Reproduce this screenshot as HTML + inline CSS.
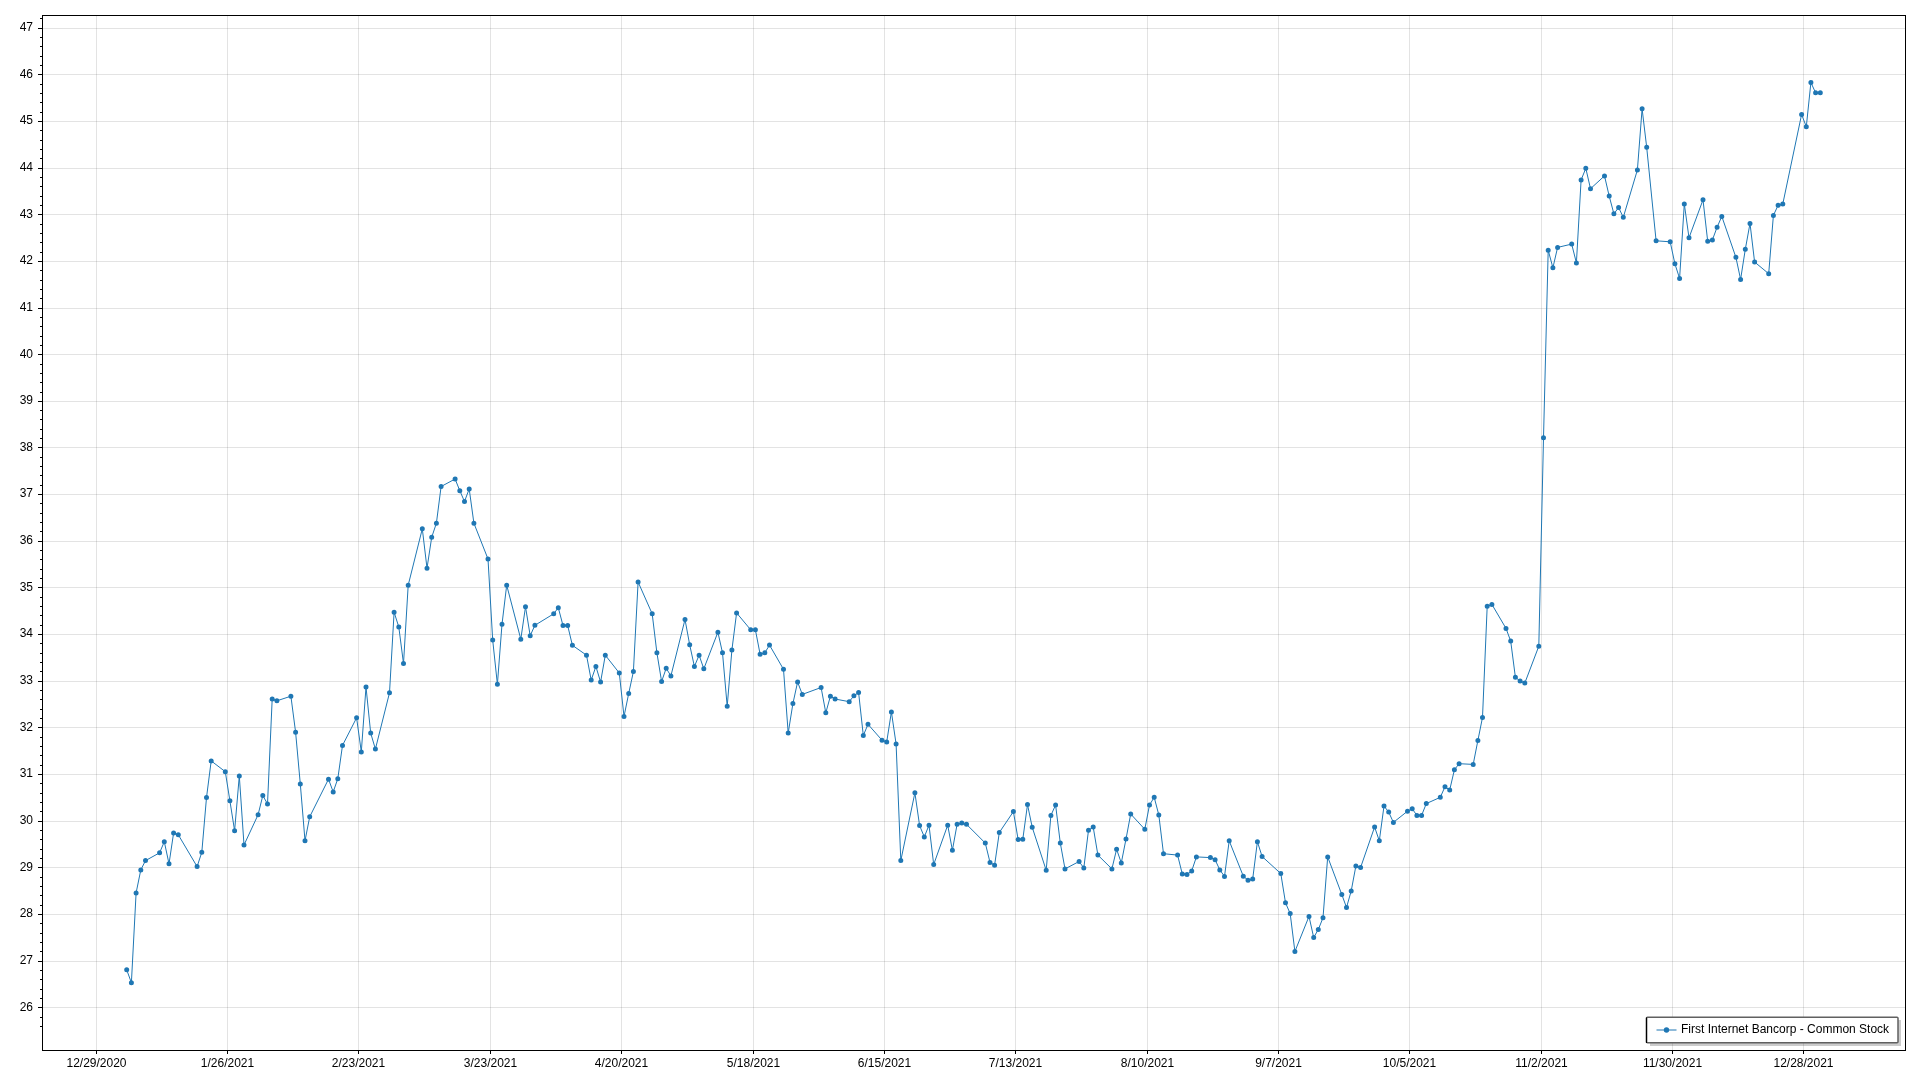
<!DOCTYPE html>
<html><head><meta charset="utf-8"><style>
html,body{margin:0;padding:0;background:#fff;width:1920px;height:1080px;overflow:hidden}
body{position:relative;font-family:"Liberation Sans", sans-serif}
</style></head><body>
<svg width="1920" height="1080" viewBox="0 0 1920 1080" style="position:absolute;left:0;top:0;will-change:transform"><path d="M43 1007.5H1905M43 961.5H1905M43 914.5H1905M43 867.5H1905M43 821.5H1905M43 774.5H1905M43 727.5H1905M43 681.5H1905M43 634.5H1905M43 587.5H1905M43 541.5H1905M43 494.5H1905M43 447.5H1905M43 401.5H1905M43 354.5H1905M43 308.5H1905M43 261.5H1905M43 214.5H1905M43 168.5H1905M43 121.5H1905M43 74.5H1905M43 28.5H1905M96.5 16V1050M227.5 16V1050M358.5 16V1050M490.5 16V1050M621.5 16V1050M753.5 16V1050M884.5 16V1050M1015.5 16V1050M1147.5 16V1050M1278.5 16V1050M1409.5 16V1050M1541.5 16V1050M1672.5 16V1050M1803.5 16V1050" stroke="#000" stroke-opacity="0.11" stroke-width="1" fill="none"/><path d="M38 1007.5H42M38 961.5H42M38 914.5H42M38 867.5H42M38 821.5H42M38 774.5H42M38 727.5H42M38 681.5H42M38 634.5H42M38 587.5H42M38 541.5H42M38 494.5H42M38 447.5H42M38 401.5H42M38 354.5H42M38 308.5H42M38 261.5H42M38 214.5H42M38 168.5H42M38 121.5H42M38 74.5H42M38 28.5H42M40 1026.5H42M40 1017.5H42M40 998.5H42M40 989.5H42M40 979.5H42M40 970.5H42M40 951.5H42M40 942.5H42M40 933.5H42M40 923.5H42M40 905.5H42M40 895.5H42M40 886.5H42M40 877.5H42M40 858.5H42M40 849.5H42M40 839.5H42M40 830.5H42M40 811.5H42M40 802.5H42M40 793.5H42M40 783.5H42M40 765.5H42M40 755.5H42M40 746.5H42M40 737.5H42M40 718.5H42M40 709.5H42M40 699.5H42M40 690.5H42M40 671.5H42M40 662.5H42M40 653.5H42M40 643.5H42M40 625.5H42M40 615.5H42M40 606.5H42M40 597.5H42M40 578.5H42M40 569.5H42M40 559.5H42M40 550.5H42M40 531.5H42M40 522.5H42M40 513.5H42M40 503.5H42M40 485.5H42M40 475.5H42M40 466.5H42M40 457.5H42M40 438.5H42M40 429.5H42M40 419.5H42M40 410.5H42M40 392.5H42M40 382.5H42M40 373.5H42M40 364.5H42M40 345.5H42M40 336.5H42M40 326.5H42M40 317.5H42M40 298.5H42M40 289.5H42M40 280.5H42M40 270.5H42M40 252.5H42M40 242.5H42M40 233.5H42M40 224.5H42M40 205.5H42M40 196.5H42M40 186.5H42M40 177.5H42M40 158.5H42M40 149.5H42M40 140.5H42M40 130.5H42M40 112.5H42M40 102.5H42M40 93.5H42M40 84.5H42M40 65.5H42M40 56.5H42M40 46.5H42M40 37.5H42M40 18.5H42M96.5 1051V1054M227.5 1051V1054M358.5 1051V1054M490.5 1051V1054M621.5 1051V1054M753.5 1051V1054M884.5 1051V1054M1015.5 1051V1054M1147.5 1051V1054M1278.5 1051V1054M1409.5 1051V1054M1541.5 1051V1054M1672.5 1051V1054M1803.5 1051V1054" stroke="#000" stroke-width="1" fill="none"/><rect x="42.5" y="15.5" width="1863" height="1035" stroke="#000" stroke-width="1" fill="none"/><g font-family='"Liberation Sans", sans-serif' font-size="12" fill="#000"><text x="33" y="1010.52" text-anchor="end">26</text><text x="33" y="963.88" text-anchor="end">27</text><text x="33" y="917.24" text-anchor="end">28</text><text x="33" y="870.59" text-anchor="end">29</text><text x="33" y="823.94" text-anchor="end">30</text><text x="33" y="777.3" text-anchor="end">31</text><text x="33" y="730.65" text-anchor="end">32</text><text x="33" y="684.01" text-anchor="end">33</text><text x="33" y="637.36" text-anchor="end">34</text><text x="33" y="590.72" text-anchor="end">35</text><text x="33" y="544.07" text-anchor="end">36</text><text x="33" y="497.43" text-anchor="end">37</text><text x="33" y="450.79" text-anchor="end">38</text><text x="33" y="404.14" text-anchor="end">39</text><text x="33" y="357.5" text-anchor="end">40</text><text x="33" y="310.85" text-anchor="end">41</text><text x="33" y="264.21" text-anchor="end">42</text><text x="33" y="217.56" text-anchor="end">43</text><text x="33" y="170.92" text-anchor="end">44</text><text x="33" y="124.27" text-anchor="end">45</text><text x="33" y="77.62" text-anchor="end">46</text><text x="33" y="30.98" text-anchor="end">47</text><text x="96.5" y="1067" text-anchor="middle">12/29/2020</text><text x="227.5" y="1067" text-anchor="middle">1/26/2021</text><text x="358.5" y="1067" text-anchor="middle">2/23/2021</text><text x="490.5" y="1067" text-anchor="middle">3/23/2021</text><text x="621.5" y="1067" text-anchor="middle">4/20/2021</text><text x="753.5" y="1067" text-anchor="middle">5/18/2021</text><text x="884.5" y="1067" text-anchor="middle">6/15/2021</text><text x="1015.5" y="1067" text-anchor="middle">7/13/2021</text><text x="1147.5" y="1067" text-anchor="middle">8/10/2021</text><text x="1278.5" y="1067" text-anchor="middle">9/7/2021</text><text x="1409.5" y="1067" text-anchor="middle">10/5/2021</text><text x="1541.5" y="1067" text-anchor="middle">11/2/2021</text><text x="1672.5" y="1067" text-anchor="middle">11/30/2021</text><text x="1803.5" y="1067" text-anchor="middle">12/28/2021</text></g><polyline points="126.7,969.8 131.4,982.7 136.1,892.9 140.8,869.9 145.5,860.6 159.6,852.8 164.3,841.7 169.0,863.8 173.6,833.0 178.3,834.8 197.1,866.6 201.8,852.3 206.5,797.5 211.2,760.9 225.3,771.7 229.9,800.8 234.6,830.7 239.3,775.9 244.0,845.0 258.1,814.7 262.8,795.6 267.5,803.9 272.2,699.0 276.9,700.8 290.9,696.2 295.6,732.2 300.3,783.9 305.0,840.8 309.7,816.8 328.5,779.2 333.2,791.9 337.8,778.7 342.5,745.4 356.6,717.8 361.3,751.9 366.0,687.0 370.7,733.1 375.4,749.1 389.5,692.8 394.1,612.2 398.8,627.0 403.5,663.6 408.2,585.2 422.3,528.8 427.0,568.2 431.7,537.3 436.4,523.2 441.1,486.5 455.1,479.0 459.8,490.7 464.5,501.5 469.2,488.9 473.9,523.2 488.0,559.0 492.7,640.1 497.4,684.3 502.0,624.2 506.7,585.2 520.8,639.2 525.5,606.8 530.2,635.7 534.9,625.3 553.7,613.8 558.3,607.7 563.0,625.6 567.7,625.6 572.4,645.3 586.5,655.2 591.2,680.1 595.9,666.5 600.6,682.0 605.3,655.2 619.3,673.0 624.0,716.5 628.7,693.5 633.4,671.6 638.1,582.0 652.2,613.8 656.9,652.8 661.6,681.5 666.2,668.3 670.9,675.9 685.0,619.5 689.7,644.8 694.4,666.5 699.1,655.2 703.8,668.8 717.9,632.2 722.5,652.8 727.2,706.3 731.9,650.0 736.6,612.9 750.7,629.8 755.4,629.8 760.1,654.2 764.8,652.8 769.5,645.1 783.5,669.3 788.2,733.1 792.9,703.6 797.6,682.0 802.3,694.4 821.1,687.5 825.8,712.8 830.4,696.2 835.1,699.0 849.2,701.7 853.9,695.8 858.6,692.5 863.3,735.5 868.0,724.3 882.0,740.2 886.7,742.1 891.4,711.9 896.1,744.0 900.8,860.6 914.9,792.8 919.6,825.6 924.3,836.9 929.0,825.2 933.7,864.5 947.7,825.2 952.4,850.2 957.1,824.3 961.8,822.9 966.5,824.3 985.3,843.1 990.0,862.4 994.6,865.2 999.3,832.5 1013.4,811.6 1018.1,839.4 1022.8,839.2 1027.5,804.6 1032.2,827.2 1046.2,870.3 1050.9,815.4 1055.6,805.0 1060.3,843.1 1065.0,868.9 1079.1,861.5 1083.8,868.0 1088.5,830.2 1093.2,827.0 1097.9,855.1 1111.9,868.9 1116.6,849.3 1121.3,862.9 1126.0,839.0 1130.7,814.0 1144.8,829.3 1149.5,805.0 1154.2,797.3 1158.8,814.9 1163.5,853.7 1177.6,855.1 1182.3,874.1 1187.0,874.5 1191.7,871.0 1196.4,856.9 1210.4,857.6 1215.1,859.7 1219.8,869.9 1224.5,876.4 1229.2,840.8 1243.3,876.2 1248.0,880.2 1252.7,879.0 1257.4,841.7 1262.1,856.5 1280.8,873.6 1285.5,902.8 1290.2,913.6 1294.9,951.5 1309.0,916.4 1313.7,937.5 1318.3,929.5 1323.0,917.8 1327.7,856.9 1341.8,894.5 1346.5,907.5 1351.2,891.0 1355.9,865.9 1360.6,867.5 1374.6,827.0 1379.3,840.8 1384.0,806.0 1388.7,812.1 1393.4,822.4 1407.5,811.2 1412.2,808.8 1416.9,815.4 1421.6,815.4 1426.3,803.6 1440.3,797.3 1445.0,786.7 1449.7,790.0 1454.4,769.8 1459.1,763.7 1473.2,764.4 1477.9,740.4 1482.5,717.4 1487.2,606.3 1491.9,604.4 1506.0,628.4 1510.7,641.1 1515.4,677.3 1520.1,681.0 1524.8,683.1 1538.8,646.2 1543.5,437.8 1548.2,250.2 1552.9,267.8 1557.6,247.4 1571.7,244.1 1576.4,262.9 1581.1,180.0 1585.8,168.3 1590.5,188.7 1604.5,175.9 1609.2,196.1 1613.9,213.8 1618.6,207.6 1623.3,217.3 1637.4,169.9 1642.1,108.8 1646.7,147.3 1656.1,240.8 1670.2,241.8 1674.9,263.8 1679.6,278.4 1684.3,203.9 1689.0,237.8 1703.0,199.8 1707.7,241.3 1712.4,239.9 1717.1,227.2 1721.8,216.4 1735.9,257.3 1740.6,279.4 1745.3,249.3 1750.0,223.4 1754.6,262.0 1768.7,273.7 1773.4,215.4 1778.1,205.3 1782.8,203.9 1801.6,114.5 1806.3,126.7 1810.9,82.5 1815.6,92.8 1820.3,92.8" fill="none" stroke="#1f77b4" stroke-width="1" stroke-linejoin="round"/><path d="M126.7 969.8m-2.5 0a2.5 2.5 0 1 0 5 0a2.5 2.5 0 1 0 -5 0M131.4 982.7m-2.5 0a2.5 2.5 0 1 0 5 0a2.5 2.5 0 1 0 -5 0M136.1 892.9m-2.5 0a2.5 2.5 0 1 0 5 0a2.5 2.5 0 1 0 -5 0M140.8 869.9m-2.5 0a2.5 2.5 0 1 0 5 0a2.5 2.5 0 1 0 -5 0M145.5 860.6m-2.5 0a2.5 2.5 0 1 0 5 0a2.5 2.5 0 1 0 -5 0M159.6 852.8m-2.5 0a2.5 2.5 0 1 0 5 0a2.5 2.5 0 1 0 -5 0M164.3 841.7m-2.5 0a2.5 2.5 0 1 0 5 0a2.5 2.5 0 1 0 -5 0M169.0 863.8m-2.5 0a2.5 2.5 0 1 0 5 0a2.5 2.5 0 1 0 -5 0M173.6 833.0m-2.5 0a2.5 2.5 0 1 0 5 0a2.5 2.5 0 1 0 -5 0M178.3 834.8m-2.5 0a2.5 2.5 0 1 0 5 0a2.5 2.5 0 1 0 -5 0M197.1 866.6m-2.5 0a2.5 2.5 0 1 0 5 0a2.5 2.5 0 1 0 -5 0M201.8 852.3m-2.5 0a2.5 2.5 0 1 0 5 0a2.5 2.5 0 1 0 -5 0M206.5 797.5m-2.5 0a2.5 2.5 0 1 0 5 0a2.5 2.5 0 1 0 -5 0M211.2 760.9m-2.5 0a2.5 2.5 0 1 0 5 0a2.5 2.5 0 1 0 -5 0M225.3 771.7m-2.5 0a2.5 2.5 0 1 0 5 0a2.5 2.5 0 1 0 -5 0M229.9 800.8m-2.5 0a2.5 2.5 0 1 0 5 0a2.5 2.5 0 1 0 -5 0M234.6 830.7m-2.5 0a2.5 2.5 0 1 0 5 0a2.5 2.5 0 1 0 -5 0M239.3 775.9m-2.5 0a2.5 2.5 0 1 0 5 0a2.5 2.5 0 1 0 -5 0M244.0 845.0m-2.5 0a2.5 2.5 0 1 0 5 0a2.5 2.5 0 1 0 -5 0M258.1 814.7m-2.5 0a2.5 2.5 0 1 0 5 0a2.5 2.5 0 1 0 -5 0M262.8 795.6m-2.5 0a2.5 2.5 0 1 0 5 0a2.5 2.5 0 1 0 -5 0M267.5 803.9m-2.5 0a2.5 2.5 0 1 0 5 0a2.5 2.5 0 1 0 -5 0M272.2 699.0m-2.5 0a2.5 2.5 0 1 0 5 0a2.5 2.5 0 1 0 -5 0M276.9 700.8m-2.5 0a2.5 2.5 0 1 0 5 0a2.5 2.5 0 1 0 -5 0M290.9 696.2m-2.5 0a2.5 2.5 0 1 0 5 0a2.5 2.5 0 1 0 -5 0M295.6 732.2m-2.5 0a2.5 2.5 0 1 0 5 0a2.5 2.5 0 1 0 -5 0M300.3 783.9m-2.5 0a2.5 2.5 0 1 0 5 0a2.5 2.5 0 1 0 -5 0M305.0 840.8m-2.5 0a2.5 2.5 0 1 0 5 0a2.5 2.5 0 1 0 -5 0M309.7 816.8m-2.5 0a2.5 2.5 0 1 0 5 0a2.5 2.5 0 1 0 -5 0M328.5 779.2m-2.5 0a2.5 2.5 0 1 0 5 0a2.5 2.5 0 1 0 -5 0M333.2 791.9m-2.5 0a2.5 2.5 0 1 0 5 0a2.5 2.5 0 1 0 -5 0M337.8 778.7m-2.5 0a2.5 2.5 0 1 0 5 0a2.5 2.5 0 1 0 -5 0M342.5 745.4m-2.5 0a2.5 2.5 0 1 0 5 0a2.5 2.5 0 1 0 -5 0M356.6 717.8m-2.5 0a2.5 2.5 0 1 0 5 0a2.5 2.5 0 1 0 -5 0M361.3 751.9m-2.5 0a2.5 2.5 0 1 0 5 0a2.5 2.5 0 1 0 -5 0M366.0 687.0m-2.5 0a2.5 2.5 0 1 0 5 0a2.5 2.5 0 1 0 -5 0M370.7 733.1m-2.5 0a2.5 2.5 0 1 0 5 0a2.5 2.5 0 1 0 -5 0M375.4 749.1m-2.5 0a2.5 2.5 0 1 0 5 0a2.5 2.5 0 1 0 -5 0M389.5 692.8m-2.5 0a2.5 2.5 0 1 0 5 0a2.5 2.5 0 1 0 -5 0M394.1 612.2m-2.5 0a2.5 2.5 0 1 0 5 0a2.5 2.5 0 1 0 -5 0M398.8 627.0m-2.5 0a2.5 2.5 0 1 0 5 0a2.5 2.5 0 1 0 -5 0M403.5 663.6m-2.5 0a2.5 2.5 0 1 0 5 0a2.5 2.5 0 1 0 -5 0M408.2 585.2m-2.5 0a2.5 2.5 0 1 0 5 0a2.5 2.5 0 1 0 -5 0M422.3 528.8m-2.5 0a2.5 2.5 0 1 0 5 0a2.5 2.5 0 1 0 -5 0M427.0 568.2m-2.5 0a2.5 2.5 0 1 0 5 0a2.5 2.5 0 1 0 -5 0M431.7 537.3m-2.5 0a2.5 2.5 0 1 0 5 0a2.5 2.5 0 1 0 -5 0M436.4 523.2m-2.5 0a2.5 2.5 0 1 0 5 0a2.5 2.5 0 1 0 -5 0M441.1 486.5m-2.5 0a2.5 2.5 0 1 0 5 0a2.5 2.5 0 1 0 -5 0M455.1 479.0m-2.5 0a2.5 2.5 0 1 0 5 0a2.5 2.5 0 1 0 -5 0M459.8 490.7m-2.5 0a2.5 2.5 0 1 0 5 0a2.5 2.5 0 1 0 -5 0M464.5 501.5m-2.5 0a2.5 2.5 0 1 0 5 0a2.5 2.5 0 1 0 -5 0M469.2 488.9m-2.5 0a2.5 2.5 0 1 0 5 0a2.5 2.5 0 1 0 -5 0M473.9 523.2m-2.5 0a2.5 2.5 0 1 0 5 0a2.5 2.5 0 1 0 -5 0M488.0 559.0m-2.5 0a2.5 2.5 0 1 0 5 0a2.5 2.5 0 1 0 -5 0M492.7 640.1m-2.5 0a2.5 2.5 0 1 0 5 0a2.5 2.5 0 1 0 -5 0M497.4 684.3m-2.5 0a2.5 2.5 0 1 0 5 0a2.5 2.5 0 1 0 -5 0M502.0 624.2m-2.5 0a2.5 2.5 0 1 0 5 0a2.5 2.5 0 1 0 -5 0M506.7 585.2m-2.5 0a2.5 2.5 0 1 0 5 0a2.5 2.5 0 1 0 -5 0M520.8 639.2m-2.5 0a2.5 2.5 0 1 0 5 0a2.5 2.5 0 1 0 -5 0M525.5 606.8m-2.5 0a2.5 2.5 0 1 0 5 0a2.5 2.5 0 1 0 -5 0M530.2 635.7m-2.5 0a2.5 2.5 0 1 0 5 0a2.5 2.5 0 1 0 -5 0M534.9 625.3m-2.5 0a2.5 2.5 0 1 0 5 0a2.5 2.5 0 1 0 -5 0M553.7 613.8m-2.5 0a2.5 2.5 0 1 0 5 0a2.5 2.5 0 1 0 -5 0M558.3 607.7m-2.5 0a2.5 2.5 0 1 0 5 0a2.5 2.5 0 1 0 -5 0M563.0 625.6m-2.5 0a2.5 2.5 0 1 0 5 0a2.5 2.5 0 1 0 -5 0M567.7 625.6m-2.5 0a2.5 2.5 0 1 0 5 0a2.5 2.5 0 1 0 -5 0M572.4 645.3m-2.5 0a2.5 2.5 0 1 0 5 0a2.5 2.5 0 1 0 -5 0M586.5 655.2m-2.5 0a2.5 2.5 0 1 0 5 0a2.5 2.5 0 1 0 -5 0M591.2 680.1m-2.5 0a2.5 2.5 0 1 0 5 0a2.5 2.5 0 1 0 -5 0M595.9 666.5m-2.5 0a2.5 2.5 0 1 0 5 0a2.5 2.5 0 1 0 -5 0M600.6 682.0m-2.5 0a2.5 2.5 0 1 0 5 0a2.5 2.5 0 1 0 -5 0M605.3 655.2m-2.5 0a2.5 2.5 0 1 0 5 0a2.5 2.5 0 1 0 -5 0M619.3 673.0m-2.5 0a2.5 2.5 0 1 0 5 0a2.5 2.5 0 1 0 -5 0M624.0 716.5m-2.5 0a2.5 2.5 0 1 0 5 0a2.5 2.5 0 1 0 -5 0M628.7 693.5m-2.5 0a2.5 2.5 0 1 0 5 0a2.5 2.5 0 1 0 -5 0M633.4 671.6m-2.5 0a2.5 2.5 0 1 0 5 0a2.5 2.5 0 1 0 -5 0M638.1 582.0m-2.5 0a2.5 2.5 0 1 0 5 0a2.5 2.5 0 1 0 -5 0M652.2 613.8m-2.5 0a2.5 2.5 0 1 0 5 0a2.5 2.5 0 1 0 -5 0M656.9 652.8m-2.5 0a2.5 2.5 0 1 0 5 0a2.5 2.5 0 1 0 -5 0M661.6 681.5m-2.5 0a2.5 2.5 0 1 0 5 0a2.5 2.5 0 1 0 -5 0M666.2 668.3m-2.5 0a2.5 2.5 0 1 0 5 0a2.5 2.5 0 1 0 -5 0M670.9 675.9m-2.5 0a2.5 2.5 0 1 0 5 0a2.5 2.5 0 1 0 -5 0M685.0 619.5m-2.5 0a2.5 2.5 0 1 0 5 0a2.5 2.5 0 1 0 -5 0M689.7 644.8m-2.5 0a2.5 2.5 0 1 0 5 0a2.5 2.5 0 1 0 -5 0M694.4 666.5m-2.5 0a2.5 2.5 0 1 0 5 0a2.5 2.5 0 1 0 -5 0M699.1 655.2m-2.5 0a2.5 2.5 0 1 0 5 0a2.5 2.5 0 1 0 -5 0M703.8 668.8m-2.5 0a2.5 2.5 0 1 0 5 0a2.5 2.5 0 1 0 -5 0M717.9 632.2m-2.5 0a2.5 2.5 0 1 0 5 0a2.5 2.5 0 1 0 -5 0M722.5 652.8m-2.5 0a2.5 2.5 0 1 0 5 0a2.5 2.5 0 1 0 -5 0M727.2 706.3m-2.5 0a2.5 2.5 0 1 0 5 0a2.5 2.5 0 1 0 -5 0M731.9 650.0m-2.5 0a2.5 2.5 0 1 0 5 0a2.5 2.5 0 1 0 -5 0M736.6 612.9m-2.5 0a2.5 2.5 0 1 0 5 0a2.5 2.5 0 1 0 -5 0M750.7 629.8m-2.5 0a2.5 2.5 0 1 0 5 0a2.5 2.5 0 1 0 -5 0M755.4 629.8m-2.5 0a2.5 2.5 0 1 0 5 0a2.5 2.5 0 1 0 -5 0M760.1 654.2m-2.5 0a2.5 2.5 0 1 0 5 0a2.5 2.5 0 1 0 -5 0M764.8 652.8m-2.5 0a2.5 2.5 0 1 0 5 0a2.5 2.5 0 1 0 -5 0M769.5 645.1m-2.5 0a2.5 2.5 0 1 0 5 0a2.5 2.5 0 1 0 -5 0M783.5 669.3m-2.5 0a2.5 2.5 0 1 0 5 0a2.5 2.5 0 1 0 -5 0M788.2 733.1m-2.5 0a2.5 2.5 0 1 0 5 0a2.5 2.5 0 1 0 -5 0M792.9 703.6m-2.5 0a2.5 2.5 0 1 0 5 0a2.5 2.5 0 1 0 -5 0M797.6 682.0m-2.5 0a2.5 2.5 0 1 0 5 0a2.5 2.5 0 1 0 -5 0M802.3 694.4m-2.5 0a2.5 2.5 0 1 0 5 0a2.5 2.5 0 1 0 -5 0M821.1 687.5m-2.5 0a2.5 2.5 0 1 0 5 0a2.5 2.5 0 1 0 -5 0M825.8 712.8m-2.5 0a2.5 2.5 0 1 0 5 0a2.5 2.5 0 1 0 -5 0M830.4 696.2m-2.5 0a2.5 2.5 0 1 0 5 0a2.5 2.5 0 1 0 -5 0M835.1 699.0m-2.5 0a2.5 2.5 0 1 0 5 0a2.5 2.5 0 1 0 -5 0M849.2 701.7m-2.5 0a2.5 2.5 0 1 0 5 0a2.5 2.5 0 1 0 -5 0M853.9 695.8m-2.5 0a2.5 2.5 0 1 0 5 0a2.5 2.5 0 1 0 -5 0M858.6 692.5m-2.5 0a2.5 2.5 0 1 0 5 0a2.5 2.5 0 1 0 -5 0M863.3 735.5m-2.5 0a2.5 2.5 0 1 0 5 0a2.5 2.5 0 1 0 -5 0M868.0 724.3m-2.5 0a2.5 2.5 0 1 0 5 0a2.5 2.5 0 1 0 -5 0M882.0 740.2m-2.5 0a2.5 2.5 0 1 0 5 0a2.5 2.5 0 1 0 -5 0M886.7 742.1m-2.5 0a2.5 2.5 0 1 0 5 0a2.5 2.5 0 1 0 -5 0M891.4 711.9m-2.5 0a2.5 2.5 0 1 0 5 0a2.5 2.5 0 1 0 -5 0M896.1 744.0m-2.5 0a2.5 2.5 0 1 0 5 0a2.5 2.5 0 1 0 -5 0M900.8 860.6m-2.5 0a2.5 2.5 0 1 0 5 0a2.5 2.5 0 1 0 -5 0M914.9 792.8m-2.5 0a2.5 2.5 0 1 0 5 0a2.5 2.5 0 1 0 -5 0M919.6 825.6m-2.5 0a2.5 2.5 0 1 0 5 0a2.5 2.5 0 1 0 -5 0M924.3 836.9m-2.5 0a2.5 2.5 0 1 0 5 0a2.5 2.5 0 1 0 -5 0M929.0 825.2m-2.5 0a2.5 2.5 0 1 0 5 0a2.5 2.5 0 1 0 -5 0M933.7 864.5m-2.5 0a2.5 2.5 0 1 0 5 0a2.5 2.5 0 1 0 -5 0M947.7 825.2m-2.5 0a2.5 2.5 0 1 0 5 0a2.5 2.5 0 1 0 -5 0M952.4 850.2m-2.5 0a2.5 2.5 0 1 0 5 0a2.5 2.5 0 1 0 -5 0M957.1 824.3m-2.5 0a2.5 2.5 0 1 0 5 0a2.5 2.5 0 1 0 -5 0M961.8 822.9m-2.5 0a2.5 2.5 0 1 0 5 0a2.5 2.5 0 1 0 -5 0M966.5 824.3m-2.5 0a2.5 2.5 0 1 0 5 0a2.5 2.5 0 1 0 -5 0M985.3 843.1m-2.5 0a2.5 2.5 0 1 0 5 0a2.5 2.5 0 1 0 -5 0M990.0 862.4m-2.5 0a2.5 2.5 0 1 0 5 0a2.5 2.5 0 1 0 -5 0M994.6 865.2m-2.5 0a2.5 2.5 0 1 0 5 0a2.5 2.5 0 1 0 -5 0M999.3 832.5m-2.5 0a2.5 2.5 0 1 0 5 0a2.5 2.5 0 1 0 -5 0M1013.4 811.6m-2.5 0a2.5 2.5 0 1 0 5 0a2.5 2.5 0 1 0 -5 0M1018.1 839.4m-2.5 0a2.5 2.5 0 1 0 5 0a2.5 2.5 0 1 0 -5 0M1022.8 839.2m-2.5 0a2.5 2.5 0 1 0 5 0a2.5 2.5 0 1 0 -5 0M1027.5 804.6m-2.5 0a2.5 2.5 0 1 0 5 0a2.5 2.5 0 1 0 -5 0M1032.2 827.2m-2.5 0a2.5 2.5 0 1 0 5 0a2.5 2.5 0 1 0 -5 0M1046.2 870.3m-2.5 0a2.5 2.5 0 1 0 5 0a2.5 2.5 0 1 0 -5 0M1050.9 815.4m-2.5 0a2.5 2.5 0 1 0 5 0a2.5 2.5 0 1 0 -5 0M1055.6 805.0m-2.5 0a2.5 2.5 0 1 0 5 0a2.5 2.5 0 1 0 -5 0M1060.3 843.1m-2.5 0a2.5 2.5 0 1 0 5 0a2.5 2.5 0 1 0 -5 0M1065.0 868.9m-2.5 0a2.5 2.5 0 1 0 5 0a2.5 2.5 0 1 0 -5 0M1079.1 861.5m-2.5 0a2.5 2.5 0 1 0 5 0a2.5 2.5 0 1 0 -5 0M1083.8 868.0m-2.5 0a2.5 2.5 0 1 0 5 0a2.5 2.5 0 1 0 -5 0M1088.5 830.2m-2.5 0a2.5 2.5 0 1 0 5 0a2.5 2.5 0 1 0 -5 0M1093.2 827.0m-2.5 0a2.5 2.5 0 1 0 5 0a2.5 2.5 0 1 0 -5 0M1097.9 855.1m-2.5 0a2.5 2.5 0 1 0 5 0a2.5 2.5 0 1 0 -5 0M1111.9 868.9m-2.5 0a2.5 2.5 0 1 0 5 0a2.5 2.5 0 1 0 -5 0M1116.6 849.3m-2.5 0a2.5 2.5 0 1 0 5 0a2.5 2.5 0 1 0 -5 0M1121.3 862.9m-2.5 0a2.5 2.5 0 1 0 5 0a2.5 2.5 0 1 0 -5 0M1126.0 839.0m-2.5 0a2.5 2.5 0 1 0 5 0a2.5 2.5 0 1 0 -5 0M1130.7 814.0m-2.5 0a2.5 2.5 0 1 0 5 0a2.5 2.5 0 1 0 -5 0M1144.8 829.3m-2.5 0a2.5 2.5 0 1 0 5 0a2.5 2.5 0 1 0 -5 0M1149.5 805.0m-2.5 0a2.5 2.5 0 1 0 5 0a2.5 2.5 0 1 0 -5 0M1154.2 797.3m-2.5 0a2.5 2.5 0 1 0 5 0a2.5 2.5 0 1 0 -5 0M1158.8 814.9m-2.5 0a2.5 2.5 0 1 0 5 0a2.5 2.5 0 1 0 -5 0M1163.5 853.7m-2.5 0a2.5 2.5 0 1 0 5 0a2.5 2.5 0 1 0 -5 0M1177.6 855.1m-2.5 0a2.5 2.5 0 1 0 5 0a2.5 2.5 0 1 0 -5 0M1182.3 874.1m-2.5 0a2.5 2.5 0 1 0 5 0a2.5 2.5 0 1 0 -5 0M1187.0 874.5m-2.5 0a2.5 2.5 0 1 0 5 0a2.5 2.5 0 1 0 -5 0M1191.7 871.0m-2.5 0a2.5 2.5 0 1 0 5 0a2.5 2.5 0 1 0 -5 0M1196.4 856.9m-2.5 0a2.5 2.5 0 1 0 5 0a2.5 2.5 0 1 0 -5 0M1210.4 857.6m-2.5 0a2.5 2.5 0 1 0 5 0a2.5 2.5 0 1 0 -5 0M1215.1 859.7m-2.5 0a2.5 2.5 0 1 0 5 0a2.5 2.5 0 1 0 -5 0M1219.8 869.9m-2.5 0a2.5 2.5 0 1 0 5 0a2.5 2.5 0 1 0 -5 0M1224.5 876.4m-2.5 0a2.5 2.5 0 1 0 5 0a2.5 2.5 0 1 0 -5 0M1229.2 840.8m-2.5 0a2.5 2.5 0 1 0 5 0a2.5 2.5 0 1 0 -5 0M1243.3 876.2m-2.5 0a2.5 2.5 0 1 0 5 0a2.5 2.5 0 1 0 -5 0M1248.0 880.2m-2.5 0a2.5 2.5 0 1 0 5 0a2.5 2.5 0 1 0 -5 0M1252.7 879.0m-2.5 0a2.5 2.5 0 1 0 5 0a2.5 2.5 0 1 0 -5 0M1257.4 841.7m-2.5 0a2.5 2.5 0 1 0 5 0a2.5 2.5 0 1 0 -5 0M1262.1 856.5m-2.5 0a2.5 2.5 0 1 0 5 0a2.5 2.5 0 1 0 -5 0M1280.8 873.6m-2.5 0a2.5 2.5 0 1 0 5 0a2.5 2.5 0 1 0 -5 0M1285.5 902.8m-2.5 0a2.5 2.5 0 1 0 5 0a2.5 2.5 0 1 0 -5 0M1290.2 913.6m-2.5 0a2.5 2.5 0 1 0 5 0a2.5 2.5 0 1 0 -5 0M1294.9 951.5m-2.5 0a2.5 2.5 0 1 0 5 0a2.5 2.5 0 1 0 -5 0M1309.0 916.4m-2.5 0a2.5 2.5 0 1 0 5 0a2.5 2.5 0 1 0 -5 0M1313.7 937.5m-2.5 0a2.5 2.5 0 1 0 5 0a2.5 2.5 0 1 0 -5 0M1318.3 929.5m-2.5 0a2.5 2.5 0 1 0 5 0a2.5 2.5 0 1 0 -5 0M1323.0 917.8m-2.5 0a2.5 2.5 0 1 0 5 0a2.5 2.5 0 1 0 -5 0M1327.7 856.9m-2.5 0a2.5 2.5 0 1 0 5 0a2.5 2.5 0 1 0 -5 0M1341.8 894.5m-2.5 0a2.5 2.5 0 1 0 5 0a2.5 2.5 0 1 0 -5 0M1346.5 907.5m-2.5 0a2.5 2.5 0 1 0 5 0a2.5 2.5 0 1 0 -5 0M1351.2 891.0m-2.5 0a2.5 2.5 0 1 0 5 0a2.5 2.5 0 1 0 -5 0M1355.9 865.9m-2.5 0a2.5 2.5 0 1 0 5 0a2.5 2.5 0 1 0 -5 0M1360.6 867.5m-2.5 0a2.5 2.5 0 1 0 5 0a2.5 2.5 0 1 0 -5 0M1374.6 827.0m-2.5 0a2.5 2.5 0 1 0 5 0a2.5 2.5 0 1 0 -5 0M1379.3 840.8m-2.5 0a2.5 2.5 0 1 0 5 0a2.5 2.5 0 1 0 -5 0M1384.0 806.0m-2.5 0a2.5 2.5 0 1 0 5 0a2.5 2.5 0 1 0 -5 0M1388.7 812.1m-2.5 0a2.5 2.5 0 1 0 5 0a2.5 2.5 0 1 0 -5 0M1393.4 822.4m-2.5 0a2.5 2.5 0 1 0 5 0a2.5 2.5 0 1 0 -5 0M1407.5 811.2m-2.5 0a2.5 2.5 0 1 0 5 0a2.5 2.5 0 1 0 -5 0M1412.2 808.8m-2.5 0a2.5 2.5 0 1 0 5 0a2.5 2.5 0 1 0 -5 0M1416.9 815.4m-2.5 0a2.5 2.5 0 1 0 5 0a2.5 2.5 0 1 0 -5 0M1421.6 815.4m-2.5 0a2.5 2.5 0 1 0 5 0a2.5 2.5 0 1 0 -5 0M1426.3 803.6m-2.5 0a2.5 2.5 0 1 0 5 0a2.5 2.5 0 1 0 -5 0M1440.3 797.3m-2.5 0a2.5 2.5 0 1 0 5 0a2.5 2.5 0 1 0 -5 0M1445.0 786.7m-2.5 0a2.5 2.5 0 1 0 5 0a2.5 2.5 0 1 0 -5 0M1449.7 790.0m-2.5 0a2.5 2.5 0 1 0 5 0a2.5 2.5 0 1 0 -5 0M1454.4 769.8m-2.5 0a2.5 2.5 0 1 0 5 0a2.5 2.5 0 1 0 -5 0M1459.1 763.7m-2.5 0a2.5 2.5 0 1 0 5 0a2.5 2.5 0 1 0 -5 0M1473.2 764.4m-2.5 0a2.5 2.5 0 1 0 5 0a2.5 2.5 0 1 0 -5 0M1477.9 740.4m-2.5 0a2.5 2.5 0 1 0 5 0a2.5 2.5 0 1 0 -5 0M1482.5 717.4m-2.5 0a2.5 2.5 0 1 0 5 0a2.5 2.5 0 1 0 -5 0M1487.2 606.3m-2.5 0a2.5 2.5 0 1 0 5 0a2.5 2.5 0 1 0 -5 0M1491.9 604.4m-2.5 0a2.5 2.5 0 1 0 5 0a2.5 2.5 0 1 0 -5 0M1506.0 628.4m-2.5 0a2.5 2.5 0 1 0 5 0a2.5 2.5 0 1 0 -5 0M1510.7 641.1m-2.5 0a2.5 2.5 0 1 0 5 0a2.5 2.5 0 1 0 -5 0M1515.4 677.3m-2.5 0a2.5 2.5 0 1 0 5 0a2.5 2.5 0 1 0 -5 0M1520.1 681.0m-2.5 0a2.5 2.5 0 1 0 5 0a2.5 2.5 0 1 0 -5 0M1524.8 683.1m-2.5 0a2.5 2.5 0 1 0 5 0a2.5 2.5 0 1 0 -5 0M1538.8 646.2m-2.5 0a2.5 2.5 0 1 0 5 0a2.5 2.5 0 1 0 -5 0M1543.5 437.8m-2.5 0a2.5 2.5 0 1 0 5 0a2.5 2.5 0 1 0 -5 0M1548.2 250.2m-2.5 0a2.5 2.5 0 1 0 5 0a2.5 2.5 0 1 0 -5 0M1552.9 267.8m-2.5 0a2.5 2.5 0 1 0 5 0a2.5 2.5 0 1 0 -5 0M1557.6 247.4m-2.5 0a2.5 2.5 0 1 0 5 0a2.5 2.5 0 1 0 -5 0M1571.7 244.1m-2.5 0a2.5 2.5 0 1 0 5 0a2.5 2.5 0 1 0 -5 0M1576.4 262.9m-2.5 0a2.5 2.5 0 1 0 5 0a2.5 2.5 0 1 0 -5 0M1581.1 180.0m-2.5 0a2.5 2.5 0 1 0 5 0a2.5 2.5 0 1 0 -5 0M1585.8 168.3m-2.5 0a2.5 2.5 0 1 0 5 0a2.5 2.5 0 1 0 -5 0M1590.5 188.7m-2.5 0a2.5 2.5 0 1 0 5 0a2.5 2.5 0 1 0 -5 0M1604.5 175.9m-2.5 0a2.5 2.5 0 1 0 5 0a2.5 2.5 0 1 0 -5 0M1609.2 196.1m-2.5 0a2.5 2.5 0 1 0 5 0a2.5 2.5 0 1 0 -5 0M1613.9 213.8m-2.5 0a2.5 2.5 0 1 0 5 0a2.5 2.5 0 1 0 -5 0M1618.6 207.6m-2.5 0a2.5 2.5 0 1 0 5 0a2.5 2.5 0 1 0 -5 0M1623.3 217.3m-2.5 0a2.5 2.5 0 1 0 5 0a2.5 2.5 0 1 0 -5 0M1637.4 169.9m-2.5 0a2.5 2.5 0 1 0 5 0a2.5 2.5 0 1 0 -5 0M1642.1 108.8m-2.5 0a2.5 2.5 0 1 0 5 0a2.5 2.5 0 1 0 -5 0M1646.7 147.3m-2.5 0a2.5 2.5 0 1 0 5 0a2.5 2.5 0 1 0 -5 0M1656.1 240.8m-2.5 0a2.5 2.5 0 1 0 5 0a2.5 2.5 0 1 0 -5 0M1670.2 241.8m-2.5 0a2.5 2.5 0 1 0 5 0a2.5 2.5 0 1 0 -5 0M1674.9 263.8m-2.5 0a2.5 2.5 0 1 0 5 0a2.5 2.5 0 1 0 -5 0M1679.6 278.4m-2.5 0a2.5 2.5 0 1 0 5 0a2.5 2.5 0 1 0 -5 0M1684.3 203.9m-2.5 0a2.5 2.5 0 1 0 5 0a2.5 2.5 0 1 0 -5 0M1689.0 237.8m-2.5 0a2.5 2.5 0 1 0 5 0a2.5 2.5 0 1 0 -5 0M1703.0 199.8m-2.5 0a2.5 2.5 0 1 0 5 0a2.5 2.5 0 1 0 -5 0M1707.7 241.3m-2.5 0a2.5 2.5 0 1 0 5 0a2.5 2.5 0 1 0 -5 0M1712.4 239.9m-2.5 0a2.5 2.5 0 1 0 5 0a2.5 2.5 0 1 0 -5 0M1717.1 227.2m-2.5 0a2.5 2.5 0 1 0 5 0a2.5 2.5 0 1 0 -5 0M1721.8 216.4m-2.5 0a2.5 2.5 0 1 0 5 0a2.5 2.5 0 1 0 -5 0M1735.9 257.3m-2.5 0a2.5 2.5 0 1 0 5 0a2.5 2.5 0 1 0 -5 0M1740.6 279.4m-2.5 0a2.5 2.5 0 1 0 5 0a2.5 2.5 0 1 0 -5 0M1745.3 249.3m-2.5 0a2.5 2.5 0 1 0 5 0a2.5 2.5 0 1 0 -5 0M1750.0 223.4m-2.5 0a2.5 2.5 0 1 0 5 0a2.5 2.5 0 1 0 -5 0M1754.6 262.0m-2.5 0a2.5 2.5 0 1 0 5 0a2.5 2.5 0 1 0 -5 0M1768.7 273.7m-2.5 0a2.5 2.5 0 1 0 5 0a2.5 2.5 0 1 0 -5 0M1773.4 215.4m-2.5 0a2.5 2.5 0 1 0 5 0a2.5 2.5 0 1 0 -5 0M1778.1 205.3m-2.5 0a2.5 2.5 0 1 0 5 0a2.5 2.5 0 1 0 -5 0M1782.8 203.9m-2.5 0a2.5 2.5 0 1 0 5 0a2.5 2.5 0 1 0 -5 0M1801.6 114.5m-2.5 0a2.5 2.5 0 1 0 5 0a2.5 2.5 0 1 0 -5 0M1806.3 126.7m-2.5 0a2.5 2.5 0 1 0 5 0a2.5 2.5 0 1 0 -5 0M1810.9 82.5m-2.5 0a2.5 2.5 0 1 0 5 0a2.5 2.5 0 1 0 -5 0M1815.6 92.8m-2.5 0a2.5 2.5 0 1 0 5 0a2.5 2.5 0 1 0 -5 0M1820.3 92.8m-2.5 0a2.5 2.5 0 1 0 5 0a2.5 2.5 0 1 0 -5 0" fill="#1f77b4"/><rect x="1650" y="1020" width="251" height="26" fill="#000" fill-opacity="0.2"/><rect x="1646.5" y="1017.2" width="251.5" height="25.6" fill="#fff" stroke="#606060" stroke-width="1.5" rx="1"/><path d="M1646.5 1017.5V1043" stroke="#000" stroke-width="1.2"/><path d="M1656.5 1030H1676.5" stroke="#1f77b4" stroke-opacity="0.6" stroke-width="1.7"/><circle cx="1666.5" cy="1030" r="2.7" fill="#1f77b4"/><text x="1681" y="1033" font-family='"Liberation Sans", sans-serif' font-size="12" fill="#000">First Internet Bancorp - Common Stock</text></svg>
</body></html>
